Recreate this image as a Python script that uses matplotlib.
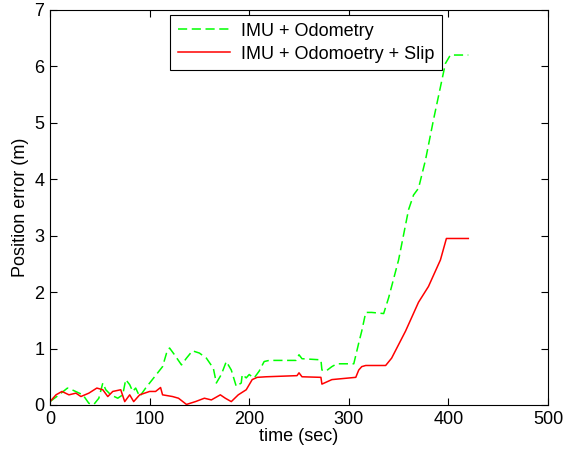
import matplotlib
matplotlib.use("Agg")
import matplotlib.pyplot as plt

plt.rcParams['font.family'] = ['Liberation Sans', 'DejaVu Sans']

t_odo = [0, 9, 17.5, 22, 33, 39, 44, 49, 53, 56, 61, 68, 73, 76, 80, 83, 86, 90, 96, 105, 113, 117, 120,
         125, 132, 137, 143, 150, 157, 164, 167, 172, 177, 182, 187, 192, 193, 197, 200, 203, 205, 210,
         215, 220, 247, 250, 253, 272, 273, 277, 283, 288, 305, 310, 313, 317, 323, 335, 340, 350, 360,
         365, 370, 377, 385, 397, 402, 420]
e_odo = [0.06, 0.18, 0.30, 0.27, 0.18, 0.03, 0.01, 0.12, 0.39, 0.27, 0.18, 0.12, 0.18, 0.45, 0.36, 0.24,
         0.30, 0.15, 0.30, 0.50, 0.68, 0.92, 1.01, 0.89, 0.71, 0.83, 0.96, 0.92, 0.83, 0.65, 0.39, 0.54,
         0.77, 0.62, 0.33, 0.39, 0.54, 0.48, 0.54, 0.50, 0.48, 0.60, 0.77, 0.79, 0.79, 0.89, 0.82, 0.80,
         0.62, 0.60, 0.68, 0.73, 0.73, 1.10, 1.31, 1.64, 1.64, 1.62, 1.90, 2.57, 3.46, 3.72, 3.84, 4.34,
         5.05, 6.05, 6.20, 6.20]

t_slip = [0, 6, 12, 19, 26, 31, 39, 47, 53, 58, 63, 71, 75, 80, 84, 90, 100, 106, 111, 113, 123, 129,
          137, 146, 155, 162, 171, 176, 182, 189, 197, 203, 208, 217, 248, 250, 253, 272, 273, 283, 307,
          310, 313, 317, 337, 343, 357, 370, 380, 392, 398, 420]
e_slip = [0.06, 0.18, 0.24, 0.18, 0.21, 0.15, 0.21, 0.30, 0.27, 0.15, 0.24, 0.27, 0.06, 0.18, 0.06, 0.18,
          0.24, 0.24, 0.31, 0.18, 0.15, 0.12, 0.01, 0.06, 0.12, 0.09, 0.18, 0.12, 0.06, 0.18, 0.27, 0.45,
          0.49, 0.50, 0.52, 0.57, 0.50, 0.49, 0.37, 0.45, 0.49, 0.62, 0.68, 0.70, 0.70, 0.83, 1.31, 1.82,
          2.10, 2.57, 2.95, 2.95]

labels = ['IMU + Odometry', 'IMU + Odomoetry + Slip']

fig = plt.figure(figsize=(5.64, 4.49), dpi=100)
ax = fig.add_axes([0.0887, 0.098, 0.8829, 0.880])
ax.plot(t_odo, e_odo, color=(0, 1, 0), linestyle=(0, (6, 3)), linewidth=1.1, label=labels[0])
ax.plot(t_slip, e_slip, color=(1, 0, 0), linestyle='-', linewidth=1.1, label=labels[1])

ax.set_xlim(0, 500)
ax.set_ylim(0, 7)
ax.set_xticks([0, 100, 200, 300, 400, 500])
ax.set_yticks(range(8))
ax.tick_params(direction='in', top=True, right=True, labelsize=13, length=5, width=0.8, pad=4)
for s in ax.spines.values():
    s.set_linewidth(0.8)
ax.set_xlabel('time (sec)', fontsize=13, labelpad=0)
ax.set_ylabel('Position error (m)', fontsize=13, labelpad=4)

leg = ax.legend(loc='upper center', bbox_to_anchor=(0.514, 0.987), fontsize=13, fancybox=False,
                framealpha=1, edgecolor='black', borderpad=0.42, handlelength=2.9,
                handletextpad=0.6, labelspacing=0.33, borderaxespad=0.0)
leg.get_frame().set_linewidth(0.8)

fig.savefig('out.png', dpi=100)
